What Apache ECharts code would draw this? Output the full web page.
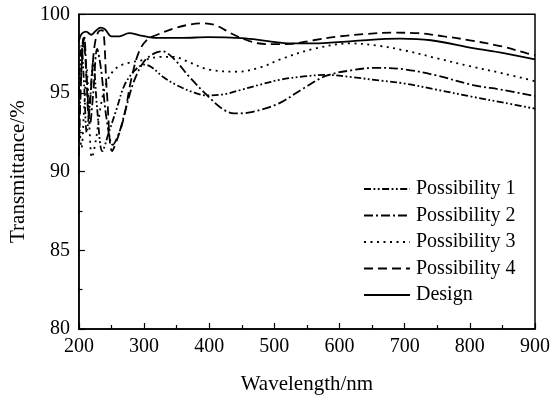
<!DOCTYPE html>
<html>
<head>
<meta charset="utf-8">
<script src="https://cdn.jsdelivr.net/npm/echarts@6/dist/echarts.min.js"></script>
<style>
  html, body { margin: 0; padding: 0; background: #fff; }
  #chart { width: 553px; height: 400px; }
</style>
</head>
<body>
<div id="chart"></div>
<script>
// Transmittance spectra (wavelength in nm, transmittance in %)
const p1Wavelength = [200, 204, 208, 212, 217, 222, 228, 236, 246, 258, 270, 285, 300, 311, 330, 350, 375, 395, 420, 449, 480, 510, 545, 580, 620, 660, 700, 750, 805, 850, 900];
const p1Transmittance = [95.0, 98.0, 95.5, 92.5, 94.5, 97.0, 94.0, 91.3, 92.5, 94.0, 95.5, 96.4, 96.8, 96.65, 96.0, 95.5, 95.05, 94.85, 94.9, 95.2, 95.55, 95.85, 96.05, 96.15, 96.0, 95.8, 95.6, 95.2, 94.75, 94.4, 94.0];

const p2Wavelength = [200, 204, 208, 212, 217, 222, 228, 234, 242, 252, 262, 272, 285, 300, 315, 328, 345, 370, 398, 420, 438, 460, 485, 510, 545, 580, 620, 655, 700, 750, 805, 850, 900];
const p2Transmittance = [92.5, 96.5, 98.6, 96.0, 93.0, 95.0, 97.8, 96.5, 93.5, 91.7, 92.5, 94.0, 95.8, 97.0, 97.5, 97.65, 97.2, 96.0, 94.8, 94.0, 93.7, 93.75, 94.0, 94.4, 95.3, 96.1, 96.45, 96.6, 96.5, 96.1, 95.5, 95.2, 94.8];

const p3Wavelength = [200, 204, 208, 212, 216, 220, 226, 235, 245, 258, 275, 300, 325, 345, 367, 398, 444, 480, 510, 560, 617, 660, 700, 750, 800, 850, 900];
const p3Transmittance = [93.5, 91.5, 94.0, 96.5, 93.0, 90.9, 92.0, 94.5, 95.9, 96.6, 96.9, 97.1, 97.3, 97.3, 97.0, 96.5, 96.35, 96.65, 97.15, 97.8, 98.15, 98.0, 97.7, 97.2, 96.7, 96.25, 95.75];

const p4Wavelength = [200, 203, 207, 211, 215, 219, 224, 230, 236, 243, 251, 260, 270, 280, 292, 305, 320, 346, 370, 390, 410, 433, 455, 475, 500, 525, 560, 600, 640, 680, 720, 760, 800, 850, 888, 900];
const p4Transmittance = [91.0, 95.5, 98.5, 96.5, 93.5, 95.5, 98.0, 98.9, 99.0, 95.0, 91.3, 92.2, 93.6, 95.8, 97.6, 98.4, 98.7, 99.1, 99.35, 99.43, 99.3, 98.8, 98.4, 98.16, 98.1, 98.12, 98.35, 98.6, 98.75, 98.83, 98.8, 98.6, 98.35, 97.95, 97.52, 97.4];

const designWavelength = [200, 204, 211, 219, 226, 233, 240, 250, 262, 277, 295, 320, 360, 398, 450, 490, 525, 560, 620, 693, 740, 805, 850, 900];
const designTransmittance = [98.3, 98.75, 98.9, 98.7, 98.95, 99.15, 99.05, 98.6, 98.6, 98.8, 98.65, 98.5, 98.5, 98.55, 98.48, 98.3, 98.15, 98.15, 98.3, 98.45, 98.35, 97.85, 97.55, 97.14];

const seriesNames = ['Possibility 1', 'Possibility 2', 'Possibility 3', 'Possibility 4', 'Design'];
const xTicks = { min: 200, max: 900, step: 100 };
const yTicks = { min: 80, max: 100, step: 5 };

const pairs = (xs, ys) => xs.map((x, i) => [x, ys[i]]);

const FONT = '"Liberation Serif", "Times New Roman", serif';
const INK = '#000';

const lineSeries = (name, xs, ys, dash) => ({
  name: name,
  type: 'line',
  data: pairs(xs, ys),
  smooth: 0.35,
  symbol: 'none',
  showSymbol: false,
  lineStyle: { color: INK, width: 1.8, type: dash },
  itemStyle: { color: INK },
  z: 3
});

const chart = echarts.init(document.getElementById('chart'), null, { renderer: 'canvas' });

chart.setOption({
  animation: false,
  backgroundColor: '#fff',
  grid: {
    left: 77.5, right: 18, top: 14.3, bottom: 70.7,
    show: true, borderColor: INK, borderWidth: 1.5, backgroundColor: 'transparent'
  },
  legend: {
    orient: 'vertical',
    left: 358, top: 174,
    itemWidth: 46, itemHeight: 14, itemGap: 6.5,
    // legend keys show only the line pattern, no marker
    itemStyle: { opacity: 0 },
    textStyle: { fontFamily: FONT, fontSize: 20, color: INK, padding: [0, 0, 0, 1] },
    data: seriesNames
  },
  xAxis: {
    type: 'value',
    min: xTicks.min, max: xTicks.max, interval: xTicks.step,
    name: 'Wavelength/nm', nameLocation: 'middle', nameGap: 45,
    nameTextStyle: { fontFamily: FONT, fontSize: 21, color: INK },
    axisLine: { lineStyle: { color: INK, width: 1.5 } },
    axisTick: { inside: true, length: 6, lineStyle: { color: INK, width: 1.2 } },
    minorTick: { show: true, splitNumber: 2, length: 4, lineStyle: { color: INK, width: 1.2 } },
    axisLabel: { fontFamily: FONT, fontSize: 20, color: INK, margin: 8 },
    splitLine: { show: false }
  },
  yAxis: {
    type: 'value',
    min: yTicks.min, max: yTicks.max, interval: yTicks.step,
    name: 'Transmittance/%', nameLocation: 'middle', nameGap: 46,
    nameTextStyle: { fontFamily: FONT, fontSize: 21, color: INK },
    axisLine: { show: true, lineStyle: { color: INK, width: 1.5 } },
    axisTick: { show: true, inside: true, length: 6, lineStyle: { color: INK, width: 1.2 } },
    minorTick: { show: true, splitNumber: 2, length: 3.5, lineStyle: { color: INK, width: 1.2 } },
    axisLabel: { fontFamily: FONT, fontSize: 20, color: INK, margin: 9 },
    splitLine: { show: false }
  },
  series: [
    lineSeries(seriesNames[0], p1Wavelength, p1Transmittance, [7, 2.5, 1.8, 2.5, 1.8, 2.5]),
    lineSeries(seriesNames[1], p2Wavelength, p2Transmittance, [9, 3, 2, 3]),
    lineSeries(seriesNames[2], p3Wavelength, p3Transmittance, [2, 4.5]),
    lineSeries(seriesNames[3], p4Wavelength, p4Transmittance, [9, 5]),
    lineSeries(seriesNames[4], designWavelength, designTransmittance, 'solid')
  ]
});
</script>
</body>
</html>
